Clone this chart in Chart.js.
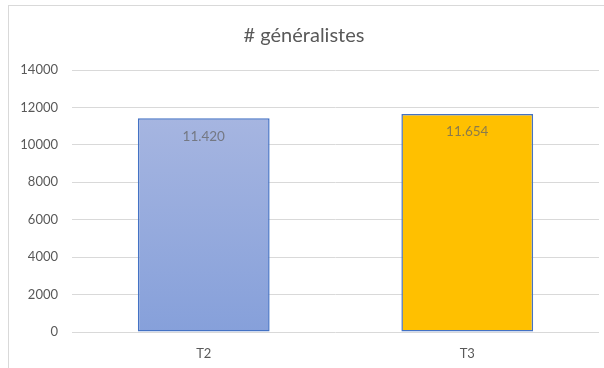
<!DOCTYPE html>
<html>
<head>
<meta charset="utf-8">
<script src="https://cdn.jsdelivr.net/npm/chart.js@4/dist/chart.umd.min.js"></script>
<style>
  html, body { margin: 0; padding: 0; background: #fff; }
  #wrap { width: 604px; height: 368px; }
</style>
</head>
<body>
<div id="wrap"><canvas id="chart" width="604" height="368"></canvas></div>
<script>
const categories = ['T2', 'T3'];
const values = [11420, 11654];
const yTicks = [0, 2000, 4000, 6000, 8000, 10000, 12000, 14000];
const chartTitle = '# généralistes';

const FONT = 'Lato, "Open Sans", sans-serif';

// thousands separated with a dot, e.g. 11.420
function formatValue(v) {
    return String(v).replace(/\B(?=(\d{3})+(?!\d))/g, '.');
}

// light frame around the whole chart
const framePlugin = {
    id: 'frame',
    beforeDraw(chart) {
        const ctx = chart.ctx;
        ctx.save();
        ctx.strokeStyle = '#d9d9d9';
        ctx.lineWidth = 1;
        ctx.strokeRect(8.5, 5.5, chart.width + 10, chart.height + 10);
        ctx.restore();
    }
};

// value written inside the top of each bar
const valueLabels = {
    id: 'valueLabels',
    afterDatasetsDraw(chart) {
        const ctx = chart.ctx;
        const meta = chart.getDatasetMeta(0);
        ctx.save();
        ctx.font = '13.5px ' + FONT;
        ctx.fillStyle = 'rgba(100, 100, 100, 0.75)';
        ctx.textAlign = 'center';
        ctx.textBaseline = 'middle';
        meta.data.forEach((bar, i) => {
            ctx.fillText(formatValue(values[i]), bar.x, bar.y + 18);
        });
        ctx.restore();
    }
};

function barFill(context) {
    if (context.dataIndex === 1) return '#ffc000';
    const area = context.chart.chartArea;
    if (!area) return '#a0b1de';
    const g = context.chart.ctx.createLinearGradient(0, area.top, 0, area.bottom);
    g.addColorStop(0, '#adbae2');
    g.addColorStop(1, '#86a0da');
    return g;
}

const ctx = document.getElementById('chart').getContext('2d');
new Chart(ctx, {
    type: 'bar',
    data: {
        labels: categories,
        datasets: [{
            data: values,
            backgroundColor: barFill,
            borderColor: '#4472c4',
            borderWidth: 1.5,
            borderSkipped: false,
            categoryPercentage: 1,
            barPercentage: 0.5
        }]
    },
    options: {
        responsive: false,
        animation: false,
        layout: { padding: { top: 6, left: 9, right: 5, bottom: 0 } },
        plugins: {
            legend: { display: false },
            tooltip: { enabled: false },
            title: {
                display: true,
                text: chartTitle,
                color: '#595959',
                font: { family: FONT, size: 20, weight: 'normal', lineHeight: 1.2 },
                padding: { top: 18, bottom: 22 }
            }
        },
        scales: {
            x: {
                grid: { display: false, drawTicks: false },
                border: { display: false },
                ticks: {
                    color: '#595959',
                    font: { family: FONT, size: 13 },
                    padding: 14
                },
                afterFit(scale) { scale.height = 36; }
            },
            y: {
                min: 0,
                max: 14000,
                afterBuildTicks(scale) {
                    scale.ticks = yTicks.map(v => ({ value: v }));
                },
                grid: { color: '#d9d9d9', lineWidth: 1, drawTicks: false },
                border: { display: false },
                ticks: {
                    color: '#595959',
                    font: { family: FONT, size: 13 },
                    padding: 14,
                    callback: v => String(v)
                },
                afterFit(scale) { scale.width = 63; }
            }
        }
    },
    plugins: [framePlugin, valueLabels]
});
</script>
</body>
</html>
